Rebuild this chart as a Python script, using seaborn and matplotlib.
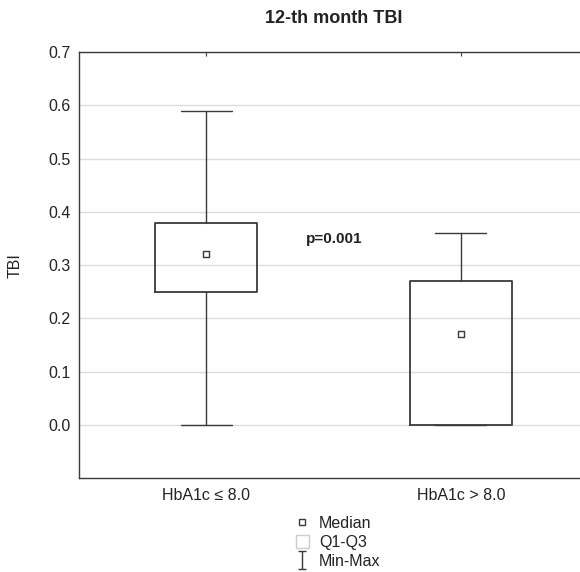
import matplotlib
matplotlib.use("Agg")
import matplotlib.pyplot as plt
from matplotlib.patches import Patch
from matplotlib.lines import Line2D
from matplotlib.path import Path
import seaborn as sns
import pandas as pd
import numpy as np

# Dati (riassunto per gruppo)
groups = ["HbA1c ≤ 8.0", "HbA1c > 8.0"]
minimum = [0.00, 0.00]
q1 = [0.25, 0.00]
median = [0.32, 0.17]
q3 = [0.38, 0.27]
maximum = [0.59, 0.36]
p_label = "p=0.001"
yticks = [0.0, 0.1, 0.2, 0.3, 0.4, 0.5, 0.6, 0.7]

sns.set_style("whitegrid")
plt.rcParams["font.family"] = ["Liberation Sans", "DejaVu Sans"]

dark = "#3a3a3a"
pos = np.arange(len(groups))
df = pd.DataFrame({"group": groups, "pos": pos, "median": median})

fig = plt.figure(figsize=(5.8, 5.72), dpi=100)
ax = fig.add_axes([0.1362, 0.1638, 0.8776, 0.7453])

# Box Q1-Q3 e baffi Min-Max
stats = [dict(label=g, whislo=a, q1=b, med=c, q3=d, whishi=e, fliers=[])
         for g, a, b, c, d, e in zip(groups, minimum, q1, median, q3, maximum)]
ax.bxp(stats, positions=pos, widths=0.4, capwidths=0.2, showfliers=False,
       boxprops=dict(color=dark, linewidth=1.3),
       whiskerprops=dict(color=dark, linewidth=1.0),
       capprops=dict(color=dark, linewidth=1.0),
       medianprops=dict(linewidth=0))

# Mediane come quadratini
sns.scatterplot(data=df, x="pos", y="median", marker="s", s=20, color="white",
                edgecolor=dark, linewidth=1.0, ax=ax, zorder=3, legend=False)

ax.text(0.39, 0.35, p_label, fontsize=11, fontweight="bold", color="#222222",
        ha="left", va="center")

ax.set_xlim(-0.5, 1.5)
ax.set_ylim(-0.1, 0.7)
ax.set_xticks(pos, groups)
ax.set_yticks(yticks, [f"{v:.1f}" for v in yticks])
ax.tick_params(axis="x", direction="in", top=True, length=3, color=dark,
               labelsize=11.5, pad=7, labelcolor="#222222")
ax.tick_params(axis="y", length=0, labelsize=11.5, pad=6, labelcolor="#222222")
ax.xaxis.grid(False)
ax.yaxis.grid(True, color="#dcdcdc", linewidth=1.0)
for s in ax.spines.values():
    s.set_color(dark)
    s.set_linewidth(1.0)

ax.set_xlabel("")
ax.set_ylabel("TBI", fontsize=11.5, color="#222222")
ax.yaxis.set_label_coords(-0.11, 0.5)
ax.set_title("12-th month TBI", fontsize=13, fontweight="bold", color="#222222", pad=21)

# Legenda sotto il grafico
ibeam = Path([(-0.45, -1), (0.45, -1), (0, -1), (0, 1), (-0.45, 1), (0.45, 1)],
             [Path.MOVETO, Path.LINETO, Path.MOVETO, Path.LINETO, Path.MOVETO, Path.LINETO])
handles = [
    Line2D([], [], marker="s", ls="none", mfc="white", mec=dark, ms=4.5, mew=1.0, label="Median"),
    Patch(facecolor="white", edgecolor="#cccccc", label="Q1-Q3"),
    Line2D([], [], marker=ibeam, ls="none", mec=dark, mfc="none", ms=13, mew=1.0, label="Min-Max"),
]
fig.legend(handles=handles, loc="upper left", bbox_to_anchor=(296 / 580, 1 - 516 / 572),
           frameon=False, fontsize=11.5, handlelength=0.8, handleheight=0.9,
           handletextpad=0.65, labelspacing=0.25, borderpad=0, borderaxespad=0,
           labelcolor="#222222")

fig.savefig("out.png", dpi=100)
